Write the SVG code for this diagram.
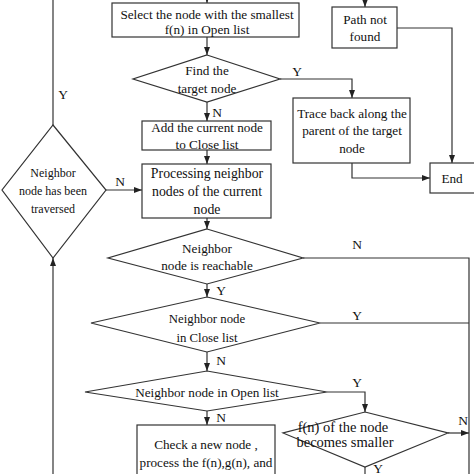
<svg xmlns="http://www.w3.org/2000/svg" width="474" height="474" viewBox="0 0 474 474">
<defs>
<marker id="ah" viewBox="0 0 8 6" refX="8" refY="3" markerWidth="8" markerHeight="6" markerUnits="userSpaceOnUse" orient="auto">
<path d="M0,0 L8,3 L0,6 Z" fill="#222"/>
</marker>
</defs>
<style>
.s{fill:#fff;stroke:#333;stroke-width:1.2}
.c{fill:none;stroke:#333;stroke-width:1.2}
.a{marker-end:url(#ah)}
text{font-family:'Liberation Serif','Times New Roman',serif;font-size:13.2px;fill:#111;text-anchor:middle}
.l{font-size:13.5px}
</style>
<rect width="474" height="474" fill="#fff"/>
<g id="connectors">
<path class="c a" d="M207,0 V3"/>
<path class="c a" d="M365,0 V7"/>
<path class="c a" d="M207,37 V55"/>
<path class="c a" d="M280,79 H352 V98"/>
<path class="c a" d="M352,163 V178 H430"/>
<path class="c a" d="M397,28 H452 V163"/>
<path class="c a" d="M207,102 V121"/>
<path class="c a" d="M207,150 V164"/>
<path class="c" d="M53,0 V125"/>
<path class="c a" d="M106,190 H142"/>
<path class="c a" d="M207,218 V229"/>
<path class="c a" d="M207,284 V297"/>
<path class="c" d="M303,258 H469 V474"/>
<path class="c" d="M320,323 H469"/>
<path class="c a" d="M207,352 V371"/>
<path class="c a" d="M327,392 H365 V412"/>
<path class="c a" d="M448,433 H469"/>
<path class="c" d="M365,467 V474"/>
<path class="c a" d="M207,411 V425"/>
<path class="c a" d="M53,474 V258"/>
<text class="l" x="63" y="99">Y</text>
<text class="l" x="297" y="76">Y</text>
<text class="l" x="217" y="117">N</text>
<text class="l" x="120" y="186">N</text>
<text class="l" x="357" y="249">N</text>
<text class="l" x="221" y="295">Y</text>
<text class="l" x="357" y="320">Y</text>
<text class="l" x="221" y="365">N</text>
<text class="l" x="357" y="387">Y</text>
<text class="l" x="221" y="422">N</text>
<text class="l" x="463" y="425">N</text>
<text class="l" x="378" y="473">Y</text>
</g>
<g id="select">
<rect class="s" x="112" y="3" width="187" height="34"/>
<text x="207" y="18.5">Select the node with the smallest</text>
<text x="207" y="34">f(n) in Open list</text>
</g>
<g id="pathnotfound">
<rect class="s" x="332" y="7" width="65" height="41"/>
<text x="365" y="23.5">Path not</text>
<text x="365" y="40.5">found</text>
</g>
<g id="findtarget">
<polygon class="s" points="207,55 280,79 207,102 133,79"/>
<text x="207" y="74.5">Find the</text>
<text x="207" y="92.5">target node</text>
</g>
<g id="traceback">
<rect class="s" x="293" y="98" width="117" height="65"/>
<text x="352" y="117.5">Trace back along the</text>
<text x="352" y="134.5">parent of the target</text>
<text x="352" y="152.5">node</text>
</g>
<g id="end">
<rect class="s" x="430" y="163" width="46" height="30"/>
<text x="452" y="182.5">End</text>
</g>
<g id="addclose">
<rect class="s" x="142" y="121" width="129" height="29"/>
<text x="207" y="132">Add the current node</text>
<text x="207" y="149">to Close list</text>
</g>
<g id="processing">
<rect class="s" x="142" y="164" width="129" height="54"/>
<text x="207" y="177.5" style="font-size:13.8px">Processing neighbor</text>
<text x="207" y="195.5" style="font-size:13.8px">nodes of the current</text>
<text x="207" y="213.5" style="font-size:13.8px">node</text>
</g>
<g id="traversed">
<polygon class="s" points="53,125 106,190 53,258 2,190"/>
<text x="53" y="177" style="font-size:12px">Neighbor</text>
<text x="53" y="194.5" style="font-size:12px">node has been</text>
<text x="53" y="212.5" style="font-size:12px">traversed</text>
</g>
<g id="reachable">
<polygon class="s" points="207,229 303,258 207,284 108,258"/>
<text x="207" y="252.5">Neighbor</text>
<text x="207" y="269.5">node is reachable</text>
</g>
<g id="incloselist">
<polygon class="s" points="207,297 320,323 207,352 91,323"/>
<text x="207" y="322.5" style="font-size:12.8px">Neighbor node</text>
<text x="207" y="341.5" style="font-size:12.8px">in Close list</text>
</g>
<g id="inopenlist">
<polygon class="s" points="207,371 327,392 207,411 85,392"/>
<text x="207" y="396.5">Neighbor node in Open list</text>
</g>
<g id="fnsmaller">
<polygon class="s" points="365,412 448,433 365,467 283,433"/>
<text x="343" y="431.5" style="font-size:14.5px">f(n) of the node</text>
<text x="345" y="447" style="font-size:14.5px">becomes smaller</text>
</g>
<g id="checknew">
<rect class="s" x="137" y="425" width="138" height="60"/>
<text x="206" y="448.5">Check a new node ,</text>
<text x="206" y="466.5">process the f(n),g(n), and</text>
</g>
</svg>
